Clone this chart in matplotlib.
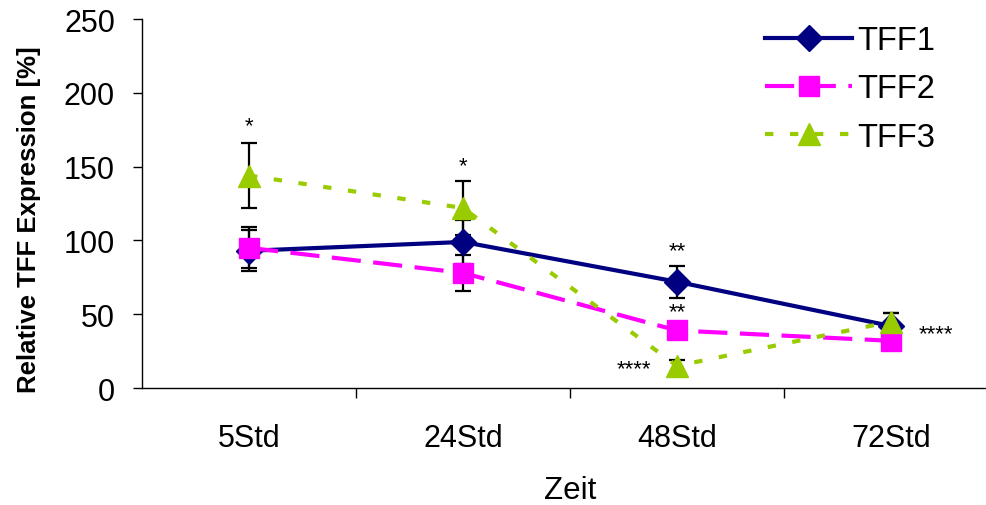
import matplotlib
matplotlib.use("Agg")
from matplotlib import pyplot as plt

plt.rcParams['font.family'] = ['Liberation Sans', 'DejaVu Sans']

# data
times = ['5Std', '24Std', '48Std', '72Std']
tff1 = [93, 99, 72, 42]
tff2 = [95, 78, 39, 32]
tff3 = [144, 122, 15, 45]
tff1_err = [14, 15, 11, 9]
tff2_err = [14, 12, 4, 3]
tff3_err = [22, 18, 4, 6]

# significance marks: (text, x position, y value)
stars = [
    ('*', 0, 178),
    ('*', 1, 151),
    ('**', 2, 93),
    ('**', 2, 52),
    ('****', 1.8, 13),
    ('****', 3.21, 37),
]

fig = plt.figure(figsize=(9.87, 5.06), dpi=100)
ax = fig.add_axes([0.1439, 0.2312, 0.8673, 0.729])

x = list(range(len(times)))

series = [
    ('TFF1', tff1, tff1_err, '#000080', 'D', 13, None, '-'),
    ('TFF2', tff2, tff2_err, '#FF00FF', 's', 15, (7, 3), '--'),
    ('TFF3', tff3, tff3_err, '#99CC00', '^', 16, (2, 4), '--'),
]

for i, (name, vals, err, color, marker, ms, dashes, ls) in enumerate(series):
    ax.errorbar(x, vals, yerr=err, fmt='none', ecolor='black', elinewidth=1.6,
                capsize=5.5, capthick=1.6, zorder=1)
    line, = ax.plot(x, vals, color=color, marker=marker, markersize=ms,
                    linewidth=3, linestyle=ls, label=name, zorder=2 + i)
    if dashes is not None:
        line.set_dashes(dashes)

for text, sx, sy in stars:
    ax.text(sx, sy, text, ha='center', va='center', fontsize=16)

ax.set_xlim(-0.5, 3.5)
ax.set_ylim(0, 250)
ax.set_yticks([0, 50, 100, 150, 200, 250])
ax.set_xticks(x)
ax.set_xticklabels(times)
ax.set_xticks([0.5, 1.5, 2.5], minor=True)
ax.tick_params(axis='x', which='major', length=0, pad=25, labelsize=22)
ax.tick_params(axis='x', which='minor', length=7, width=1)
ax.tick_params(axis='y', length=6.5, width=1, labelsize=22, pad=13)

for side in ['top', 'right']:
    ax.spines[side].set_visible(False)
for side in ['left', 'bottom']:
    ax.spines[side].set_linewidth(1)

ax.set_xlabel('Zeit', fontsize=22.5, labelpad=16)
ax.set_ylabel('Relative TFF Expression [%]', fontsize=18.5, fontweight='bold')
ax.yaxis.set_label_coords(-0.118, 0.458)

fig.legend(loc='upper left', bbox_to_anchor=(765 / 987, 1 - 26 / 506), frameon=False,
           fontsize=23.5, handlelength=2.67, handletextpad=0.15, labelspacing=0.53,
           borderpad=0, borderaxespad=0)

fig.savefig('out.png', dpi=100)
